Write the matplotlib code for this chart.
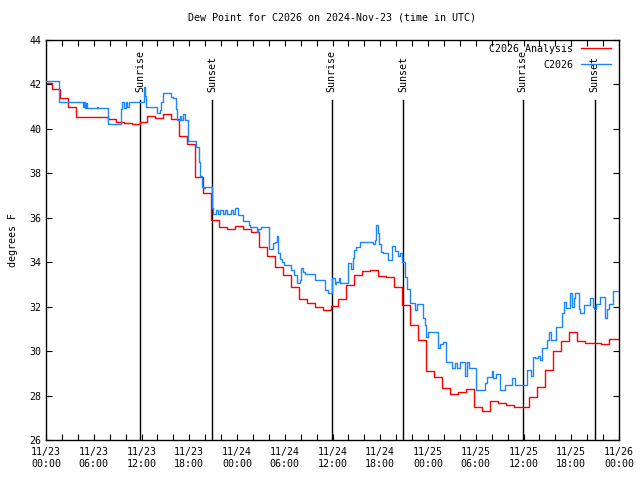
import numpy as np
import pandas as pd
import matplotlib
matplotlib.use('Agg')
import matplotlib.pyplot as plt
import matplotlib.dates as mdates

plt.rcParams['font.family'] = 'DejaVu Sans Mono'
plt.rcParams['font.size'] = 7.2

start = pd.Timestamp('2024-11-23 00:00')
end = pd.Timestamp('2024-11-26 00:00')

# hourly analysis values (step changes ~15 min before the hour)
red_vals = [42.05, 41.8, 41.4, 41.0, 40.52, 40.52, 40.52, 40.52, 40.43, 40.33, 40.25, 40.2,
            40.3, 40.6, 40.47, 40.65, 40.45, 39.68, 39.3, 37.85, 37.1, 35.9, 35.6, 35.5,
            35.65, 35.48, 35.35, 34.67, 34.28, 33.8, 33.42, 32.87, 32.34, 32.15, 32.0, 31.85,
            32.03, 32.33, 32.97, 33.42, 33.6, 33.65, 33.4, 33.32, 32.9, 32.07, 31.17, 30.5,
            29.12, 28.82, 28.32, 28.05, 28.14, 28.28, 27.47, 27.3, 27.75, 27.65, 27.57, 27.47,
            27.5, 27.95, 28.4, 29.15, 30.0, 30.45, 30.85, 30.45, 30.38, 30.38, 30.32, 30.53]
red_hours = np.clip(np.arange(len(red_vals)) - 0.25, 0, None)
red_hours = np.append(red_hours, 72.0)
red_vals = red_vals + [red_vals[-1]]

# station observations (hours since start, deg F)
blue_hours = [0.0, 1.6, 4.6, 4.75, 4.9, 5.0, 5.2, 6.4, 6.5, 7.8,
              9.4, 9.6, 9.8, 10.0, 10.2, 10.4, 12.3, 12.5, 12.6,
              13.9, 14.3, 14.5, 14.7, 15.2, 15.7, 16.0, 16.3, 16.5,
              16.8, 17.0, 17.2, 17.45, 17.9, 18.9, 19.2, 19.35, 19.6, 19.8, 19.95,
              20.8, 21.0, 21.3, 21.6, 21.9, 22.2, 22.5, 22.8, 23.2, 23.5, 23.8,
              24.1, 24.7, 25.5, 25.6, 26.5, 26.7, 27.0,
              28.0, 28.5, 28.8, 29.0, 29.2, 29.4, 29.7, 29.95,
              30.8, 31.2, 31.6, 31.9, 32.1, 32.3, 32.6,
              33.8, 35.0, 35.4, 35.95, 36.3, 36.5, 36.86, 37.0,
              37.9, 38.3, 38.55, 38.7, 39.0, 39.5,
              41.05, 41.3, 41.5, 41.7, 41.9, 42.1, 42.3,
              43.0, 43.5, 43.9, 44.2, 44.5, 44.7,
              45.1, 45.4, 45.7, 46.4, 46.6, 47.4,
              47.6, 47.8, 48.0, 49.2, 49.5, 49.9, 50.2,
              51.06, 51.4, 51.7, 52.0, 52.65, 52.9, 53.2,
              54.0, 55.1, 55.4, 56.0, 56.2, 56.5, 57.05, 57.7, 58.6, 58.9,
              60.5, 61.0, 61.2, 61.5, 61.8, 62.1, 62.3, 62.9, 63.25, 63.4, 64.1,
              64.8, 65.1, 65.3, 65.85, 66.05, 66.3, 66.5, 67.0, 67.1, 67.6, 68.4,
              68.7, 68.9, 69.1, 69.6, 70.2, 70.45, 70.8, 71.2, 72.0]
blue_vals = [42.17, 41.2, 41.0, 41.2, 40.95, 41.15, 40.93, 41.0, 40.93, 40.22,
             40.9, 41.2, 40.95, 41.2, 41.0, 41.2, 41.9, 41.5, 40.97,
             40.7, 40.85, 41.2, 41.63, 41.6, 41.45, 41.4, 40.9, 40.4,
             40.6, 40.4, 40.65, 40.4, 39.45, 39.2, 38.5, 37.9, 37.4, 37.33, 37.4,
             36.42, 36.17, 36.35, 36.17, 36.35, 36.17, 36.35, 36.17, 36.35, 36.17, 36.42,
             36.12, 35.87, 35.67, 35.6, 35.35, 35.5, 35.6,
             34.58, 34.85, 34.9, 35.18, 34.4, 34.13, 34.0, 33.87,
             33.65, 33.42, 33.08, 33.2, 33.72, 33.55, 33.47,
             33.2, 32.75, 32.6, 33.27, 33.0, 33.1, 33.27, 33.05,
             33.98, 33.68, 34.2, 34.55, 34.7, 34.92,
             34.8, 35.0, 35.67, 35.3, 34.8, 34.47, 34.4,
             34.1, 34.73, 34.5, 34.3, 34.4, 34.02,
             33.35, 32.8, 32.15, 31.85, 32.1, 31.5,
             31.17, 30.65, 30.85, 30.12, 30.3, 30.42, 29.52,
             29.22, 29.45, 29.22, 29.5, 28.88, 29.5, 29.22,
             28.25, 28.55, 28.85, 29.12, 28.8, 28.95, 28.25, 28.47, 28.78, 28.47,
             29.15, 28.88, 29.75, 29.7, 29.78, 29.6, 30.12, 30.5, 30.87, 30.5, 31.07,
             31.7, 32.22, 31.95, 32.6, 32.0, 32.4, 32.63, 31.9, 31.7, 32.07, 32.37,
             32.0, 31.88, 32.1, 32.45, 31.47, 31.9, 32.1, 32.72, 32.72]

sun_events = ['Sunrise', 'Sunset', 'Sunrise', 'Sunset', 'Sunrise', 'Sunset']
sun_hours = [11.82, 20.86, 35.9, 44.92, 59.92, 68.93]

red_t = start + pd.to_timedelta(red_hours, unit='h')
blue_t = start + pd.to_timedelta(blue_hours, unit='h')

fig = plt.figure(figsize=(6.4, 4.8), dpi=100)
ax = fig.add_axes([46 / 640, 40 / 480, 573 / 640, 400 / 480])

for name, h in zip(sun_events, sun_hours):
    t = start + pd.Timedelta(hours=h)
    ax.plot([t, t], [26, 41.3], color='black', lw=1.0, zorder=1)
    ax.text(t, 41.66, name, rotation=90, ha='center', va='bottom', zorder=4)

ax.plot(red_t, red_vals, drawstyle='steps-post', color='#ff0000', lw=1.0,
        label='C2026 Analysis', zorder=2)
ax.plot(blue_t, blue_vals, drawstyle='steps-post', color='#1a86ff', lw=1.0,
        label='C2026', zorder=3)

ax.set_xlim(start, end)
ax.set_ylim(26, 44)
ax.set_yticks(np.arange(26, 45, 2))
ax.xaxis.set_major_locator(mdates.HourLocator(byhour=[0, 6, 12, 18]))
ax.xaxis.set_minor_locator(mdates.HourLocator(interval=2))
ax.xaxis.set_major_formatter(mdates.DateFormatter('%m/%d\n%H:%M'))
ax.tick_params(which='both', direction='in', top=True, right=True, length=4, width=0.8)
ax.tick_params(axis='x', pad=5)
for s in ax.spines.values():
    s.set_linewidth(1.0)

ax.set_ylabel('degrees F', labelpad=8)
ax.set_title('Dew Point for C2026 on 2024-Nov-23 (time in UTC)', fontsize=7.2, pad=14)
ax.legend(loc='upper right', frameon=False, markerfirst=False, handlelength=3.0,
          bbox_to_anchor=(1.0, 1.01), labelspacing=0.6, borderaxespad=0.4)

fig.savefig('out.png', dpi=100)
